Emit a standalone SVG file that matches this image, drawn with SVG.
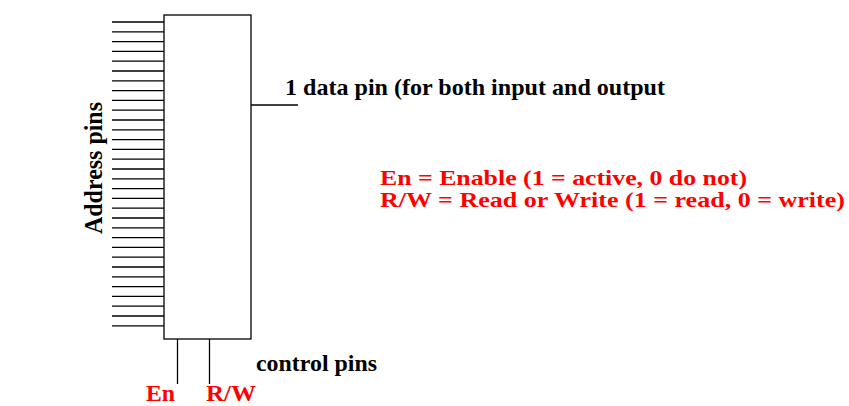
<svg xmlns="http://www.w3.org/2000/svg" width="849" height="406" viewBox="0 0 849 406">
<style>
.ln{stroke:#000;stroke-width:1.3;fill:none}
.t{font-family:"Liberation Serif","Times New Roman",serif;font-weight:bold;font-size:23px;fill:#000}
.r{fill:#ff0000}
.big{font-size:25px}
.sm{font-size:21px}
</style>
<rect width="849" height="406" fill="#fff"/>
<g id="chip"><rect class="ln" x="164" y="15" width="87" height="324"/></g>
<g id="connectors">
<path class="ln" d="M112 22H164M112 31.8H164M112 41.6H164M112 51.4H164M112 61.2H164M112 71H164M112 80.8H164M112 90.6H164M112 100.4H164M112 110.2H164M112 120H164M112 129.8H164M112 139.6H164M112 149.4H164M112 159.2H164M112 169H164M112 178.8H164M112 188.6H164M112 198.4H164M112 208.2H164M112 218H164M112 227.8H164M112 237.6H164M112 247.4H164M112 257.2H164M112 267H164M112 276.8H164M112 286.6H164M112 296.4H164M112 306.2H164M112 316H164M112 325.8H164"/>
<path class="ln" d="M251 105H298"/>
<path class="ln" d="M177.5 339V384M209.5 339V384"/>
</g>
<g id="labels">
<text class="t big" x="102" y="234" textLength="132" lengthAdjust="spacingAndGlyphs" transform="rotate(-90 102 234)">Address pins</text>
<text class="t" x="285" y="95" textLength="380" lengthAdjust="spacingAndGlyphs">1 data pin (for both input and output</text>
<text class="t" x="256" y="371" textLength="121" lengthAdjust="spacingAndGlyphs">control pins</text>
<text class="t r" x="146" y="401" textLength="29" lengthAdjust="spacingAndGlyphs">En</text>
<text class="t r" x="206" y="401" textLength="50" lengthAdjust="spacingAndGlyphs">R/W</text>
<text class="t r sm" x="380" y="185" textLength="367" lengthAdjust="spacingAndGlyphs">En = Enable (1 = active, 0 do not)</text>
<text class="t r sm" x="380" y="207" textLength="465" lengthAdjust="spacingAndGlyphs">R/W = Read or Write (1 = read, 0 = write)</text>
</g>
</svg>
